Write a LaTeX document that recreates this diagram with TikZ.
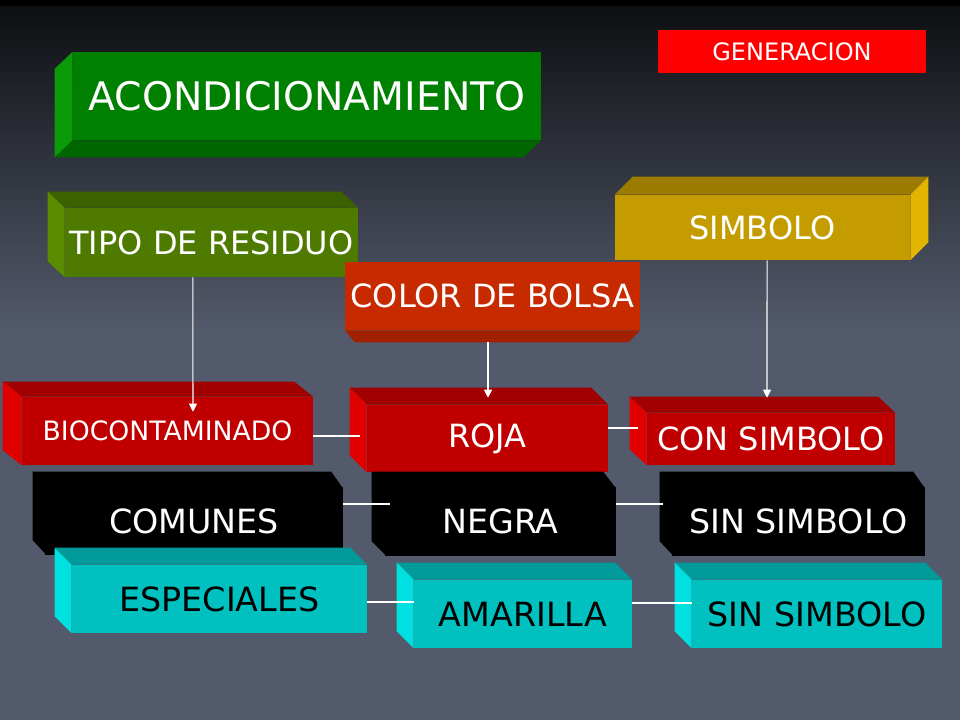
\documentclass[tikz,border=0pt]{standalone}
\usepackage{fontspec}
\setmainfont{DejaVu Sans}
\usetikzlibrary{arrows.meta}

\definecolor{fondo}{HTML}{535A6B}
\definecolor{fondoalto}{HTML}{0E0F12}
\definecolor{verde}{HTML}{008000}
\definecolor{verdeclaro}{HTML}{0A9A0A}
\definecolor{verdeosc}{HTML}{006600}
\definecolor{oliva}{HTML}{4E7A00}
\definecolor{olivaclaro}{HTML}{5A8C00}
\definecolor{olivaosc}{HTML}{3C6200}
\definecolor{oro}{HTML}{C49C00}
\definecolor{oroclaro}{HTML}{E2B600}
\definecolor{oroosc}{HTML}{9C7C00}
\definecolor{naranja}{HTML}{C82A00}
\definecolor{naranjaosc}{HTML}{A02000}
\definecolor{rojo}{HTML}{C00000}
\definecolor{rojoclaro}{HTML}{E00000}
\definecolor{rojoosc}{HTML}{A00000}
\definecolor{cian}{HTML}{00C0C0}
\definecolor{cianclaro}{HTML}{00E0E0}
\definecolor{cianosc}{HTML}{009A9A}

% caras laterales de las cajas
\newcommand{\caraarriba}[4]{\fill[#4] (#1.north west) -- (#1.north east) -- ([shift={(#2,#3)}]#1.north east) -- ([shift={(#2,#3)}]#1.north west) -- cycle;}
\newcommand{\caraabajo}[4]{\fill[#4] (#1.south west) -- (#1.south east) -- ([shift={(#2,#3)}]#1.south east) -- ([shift={(#2,#3)}]#1.south west) -- cycle;}
\newcommand{\caraizq}[4]{\fill[#4] (#1.north west) -- ([shift={(#2,#3)}]#1.north west) -- ([shift={(#2,#3)}]#1.south west) -- (#1.south west) -- cycle;}
\newcommand{\carader}[4]{\fill[#4] (#1.north east) -- ([shift={(#2,#3)}]#1.north east) -- ([shift={(#2,#3)}]#1.south east) -- (#1.south east) -- cycle;}
% caja negra: caras de arriba e izquierda en una sola pieza
\newcommand{\caranegra}[3]{\fill[black] ([shift={(#2,#3)}]#1.north west) -- ([shift={(#2,#3)}]#1.north east) -- ([shift={(0,2)}]#1.north east) -- ([shift={(2,2)}]#1.north west) -- ([shift={(2,0)}]#1.south west) -- ([shift={(#2,#3)}]#1.south west) -- cycle;}

\tikzset{
  caja/.style={rectangle, inner sep=0pt, text=white, font=\fontsize{24}{28}\selectfont},
  cajabaja/.style={caja, font=\fontsize{25}{29}\selectfont},
  ancho/.style={minimum width=#1*0.75pt},
  alto/.style={minimum height=#1*0.75pt},
  flecha/.style={white, line width=0.8pt, -{Triangle[length=6pt,width=6pt]}},
  linea/.style={white, line width=0.8pt}
}

\begin{document}
\begin{tikzpicture}[x=0.75pt, y=-0.75pt]
\useasboundingbox (0,0) rectangle (960,720);

% fondo
\fill[fondo] (0,0) rectangle (960,720);
\shade[top color=fondoalto, bottom color=fondo] (0,6) rectangle (960,330);
\fill[black] (0,0) rectangle (960,6);

% titulo
\node[caja, ancho=268, alto=43, fill=red, font=\fontsize{18}{22}\selectfont] (gen) at (792,51.5) {GENERACION};

\node[caja, ancho=468, alto=88, fill=verde, font=\fontsize{29.5}{34}\selectfont] (acond) at (307,96) {ACONDICIONAMIENTO};
\caraizq{acond}{-18}{17}{verdeclaro}
\caraabajo{acond}{-18}{17}{verdeosc}

% fila de categorias
\node[caja, ancho=293, alto=69, fill=oliva] (tipo) at (211.5,242.5) {TIPO DE RESIDUO};
\caraarriba{tipo}{-17}{-16}{olivaosc}
\caraizq{tipo}{-17}{-16}{olivaclaro}

\node[caja, ancho=295, alto=65, fill=oro] (simbolo) at (762.5,227.5) {SIMBOLO};
\caraarriba{simbolo}{18}{-18}{oroosc}
\carader{simbolo}{18}{-18}{oroclaro}

\node[caja, ancho=295, alto=68, fill=naranja] (bolsa) at (492.5,296) {COLOR DE BOLSA};
\fill[naranjaosc] (bolsa.south west) -- (bolsa.south east) -- ([shift={(-12,12)}]bolsa.south east) -- ([shift={(10,12)}]bolsa.south west) -- cycle;

% fila roja
\node[caja, ancho=291, alto=68, fill=rojo, font=\fontsize{20}{24}\selectfont] (bio) at (167.5,431) {BIOCONTAMINADO};
\caraarriba{bio}{-19}{-15}{rojoosc}
\caraizq{bio}{-19}{-15}{rojoclaro}

\node[caja, ancho=241, alto=67, fill=rojo] (roja) at (487.5,438.5) {ROJA};
\caraarriba{roja}{-17}{-17}{rojoosc}
\caraizq{roja}{-17}{-17}{rojoclaro}

\node[caja, ancho=248, alto=52, fill=rojo] (consim) at (771,439) {CON SIMBOLO};
\caraarriba{consim}{-17}{-16}{rojoosc}
\caraizq{consim}{-17}{-16}{rojoclaro}

% fila negra
\node[cajabaja, ancho=298, alto=68, fill=black] (comunes) at (194,521) {COMUNES};
\caranegra{comunes}{-12}{-15}

\node[cajabaja, ancho=231, alto=69, fill=black] (negra) at (500.5,521.5) {NEGRA};
\caranegra{negra}{-13}{-15}

\node[cajabaja, ancho=253, alto=69, fill=black] (sinsim) at (798.5,521.5) {SIN SIMBOLO};
\caranegra{sinsim}{-12}{-15}

% fila cian
\node[cajabaja, ancho=295, alto=68, fill=cian, text=black] (espec) at (219.5,599) {ESPECIALES};
\caraarriba{espec}{-17}{-17}{cianosc}
\caraizq{espec}{-17}{-17}{cianclaro}

\node[cajabaja, ancho=218, alto=68, fill=cian, text=black] (amar) at (523,614) {AMARILLA};
\caraarriba{amar}{-17}{-17}{cianosc}
\caraizq{amar}{-17}{-17}{cianclaro}

\node[cajabaja, ancho=250, alto=68, fill=cian, text=black] (sinsimb) at (817,614) {SIN SIMBOLO};
\caraarriba{sinsimb}{-17}{-17}{cianosc}
\caraizq{sinsimb}{-17}{-17}{cianclaro}

% conectores
\draw[flecha] ([xshift=-14pt]tipo.south) -- ([shift={(25.5,15)}]bio.north);
\draw[flecha] ([shift={(-4.5,12)}]bolsa.south) -- ([shift={(0.5,-7)}]roja.north);
\draw[flecha] ([xshift=3.4pt]simbolo.south) -- ([shift={(-4,-15)}]consim.north);

\draw[linea] ([yshift=-3.75pt]bio.east) -- ([shift={(-7,-2.5)}]roja.west);
\draw[linea] ([shift={(0,-10.5)}]roja.east) -- ([shift={(-9,-11)}]consim.west);
\draw[linea] ([shift={(0,-17)}]comunes.east) -- ([shift={(5,-17.5)}]negra.west);
\draw[linea] ([shift={(0,-17.5)}]negra.east) -- ([shift={(-9,-17.5)}]sinsim.west);
\draw[linea] ([shift={(0,3)}]espec.east) -- ([shift={(0,-12)}]amar.west);
\draw[linea] ([shift={(0,-11)}]amar.east) -- ([shift={(0,-11)}]sinsimb.west);
\end{tikzpicture}
\end{document}
